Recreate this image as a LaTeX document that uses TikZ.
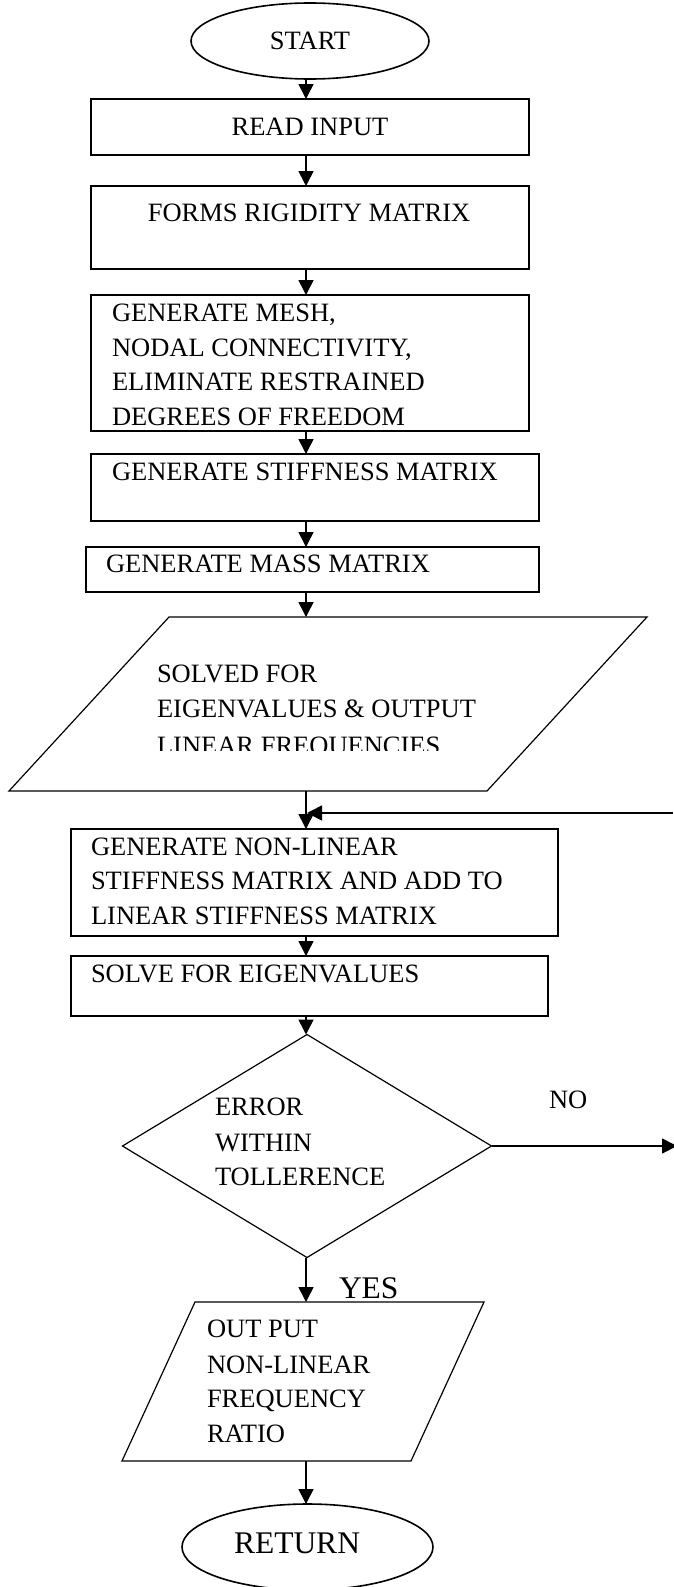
\documentclass[tikz,border=0pt]{standalone}
\usepackage{fontspec}
\setmainfont{Liberation Serif}
\usetikzlibrary{arrows.meta,shapes.geometric,calc}
\begin{document}
\begin{tikzpicture}[x=1pt,y=-1pt,
  every node/.style={inner sep=0pt, outer sep=0pt},
  box/.style={draw, line width=1.5pt, rectangle},
  term/.style={draw, line width=1.6pt, ellipse},
  decision/.style={draw, line width=1.2pt, diamond},
  ghost/.style={rectangle},
  txt/.style={anchor=base west, font=\fontsize{26.5}{34}\selectfont},
  ctxt/.style={anchor=base, font=\fontsize{26.5}{34}\selectfont},
  bigtxt/.style={font=\fontsize{31.5}{38}\selectfont},
  arr/.style={-{Triangle[length=15pt,width=15pt]}, line width=1.6pt},
  para/.style={line width=1.2pt}
]
\useasboundingbox (0,0) rectangle (673,1587);
\coordinate (ax) at (306,0);

% shapes
\node[term, minimum width=238pt, minimum height=76pt] (start) at (310,41) {\fontsize{26.5}{34}\selectfont START};
\node[box, minimum width=438pt, minimum height=56pt] (read) at (310,127) {};
\node[box, minimum width=438pt, minimum height=83pt] (forms) at (310,227.5) {};
\node[box, minimum width=438pt, minimum height=136pt] (mesh) at (310,363) {};
\node[box, minimum width=448pt, minimum height=67pt] (stiff) at (315,487.5) {};
\node[box, minimum width=453pt, minimum height=45pt] (mass) at (312.5,569.5) {};
\node[ghost, minimum width=638pt, minimum height=174pt] (solved) at (328,704) {};
\draw[para] ($(solved.north west)+(160,0)$) -- (solved.north east) -- ($(solved.south east)-(160,0)$) -- (solved.south west) -- cycle;
\node[box, minimum width=487pt, minimum height=107pt] (nonlin) at (314.5,882.5) {};
\node[box, minimum width=477pt, minimum height=60pt] (solve) at (309.5,986) {};
\node[decision, minimum width=369pt, minimum height=223pt] (dec) at (307,1146) {};
\node[ghost, minimum width=362pt, minimum height=159pt] (outp) at (303,1381.5) {};
\draw[para] ($(outp.north west)+(73,0)$) -- (outp.north east) -- ($(outp.south east)-(73,0)$) -- (outp.south west) -- cycle;
\node[term, minimum width=251pt, minimum height=86pt] (ret) at (307.5,1547) {};

% texts
\node[ctxt] (tread) at (310,135) {READ INPUT};
\node[ctxt] (tforms) at (309,221) {FORMS RIGIDITY MATRIX};
\node[txt] (tmesh1) at (112,321) {GENERATE MESH,};
\node[txt] (tmesh2) at (112,356) {NODAL CONNECTIVITY,};
\node[txt] (tmesh3) at (112,390) {ELIMINATE RESTRAINED};
\node[txt] (tmesh4) at (112,425) {DEGREES OF FREEDOM};
\node[txt] (tstiff) at (112,480) {GENERATE STIFFNESS MATRIX};
\node[txt] (tmass) at (106,572) {GENERATE MASS MATRIX};
\node[txt] (tsol1) at (157,682) {SOLVED FOR};
\node[txt] (tsol2) at (157,717) {EIGENVALUES \& OUTPUT};
\begin{scope}
\clip (0,600) rectangle (673,750);
\node[txt] (tsol3) at (157,754) {LINEAR FREQUENCIES};
\end{scope}
\node[txt] (tnl1) at (91,855) {GENERATE NON-LINEAR};
\node[txt] (tnl2) at (91,889) {STIFFNESS MATRIX AND ADD TO};
\node[txt] (tnl3) at (91,924) {LINEAR STIFFNESS MATRIX};
\node[txt] (tsolve) at (91,982) {SOLVE FOR EIGENVALUES};
\node[txt] (td1) at (215,1115) {ERROR};
\node[txt] (td2) at (215,1151) {WITHIN};
\node[txt] (td3) at (215,1185) {TOLLERENCE};
\node[txt] (tno) at (549,1108) {NO};
\node[txt, bigtxt] (tyes) at (339,1298) {YES};
\node[txt] (to1) at (207,1337) {OUT PUT};
\node[txt] (to2) at (207,1373) {NON-LINEAR};
\node[txt] (to3) at (207,1407) {FREQUENCY};
\node[txt] (to4) at (207,1442) {RATIO};
\node[anchor=base, bigtxt] (tret) at (297,1553) {RETURN};

% connectors
\draw[arr] (start.south -| ax) -- (read.north -| ax);
\draw[arr] (read.south -| ax) -- (forms.north -| ax);
\draw[arr] (forms.south -| ax) -- (mesh.north -| ax);
\draw[arr] (mesh.south -| ax) -- (stiff.north -| ax);
\draw[arr] (stiff.south -| ax) -- (mass.north -| ax);
\draw[arr] (mass.south -| ax) -- (solved.north -| ax);
\draw[arr] (solved.south -| ax) -- (nonlin.north -| ax);
\coordinate (join) at (307,813);
\coordinate (redge) at (673,813);
\draw[arr] (redge) -- (join);
\draw[arr] (nonlin.south -| ax) -- (solve.north -| ax);
\draw[arr] (solve.south -| ax) -- (dec.north -| ax);
\draw[arr] (dec.south -| ax) -- (outp.north -| ax);
\draw[arr] (outp.south -| ax) -- (ret.north -| ax);
\coordinate (noend) at (677,1146);
\draw[arr] (dec.east) -- (noend);
\end{tikzpicture}
\end{document}
